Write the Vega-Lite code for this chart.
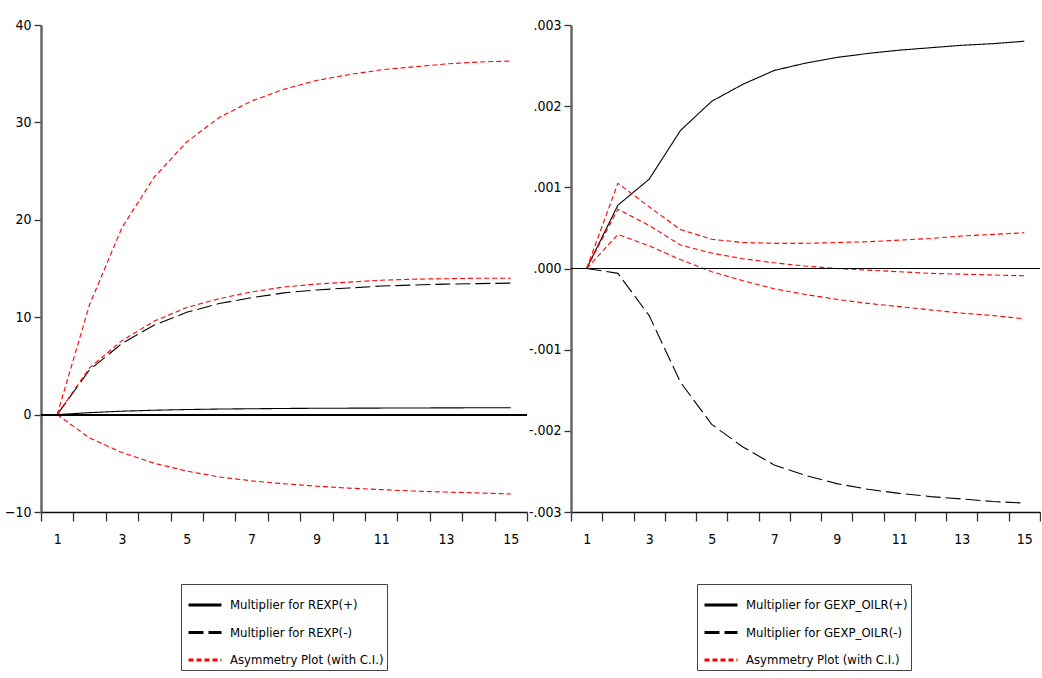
{
"$schema":"https://vega.github.io/schema/vega-lite/v6.json",
"background":"white",
"padding":{"left":4,"top":18,"right":0,"bottom":0},
"config":{
 "view":{"stroke":null},
 "font":"DejaVu Sans Condensed",
 "axis":{"labelFont":"DejaVu Sans Condensed","labelFontSize":14,"labelColor":"#000","grid":false,"tickColor":"#333","tickWidth":1.3},
 "axisX":{"domainColor":"#111","domainWidth":1.5,"tickSize":9,"labelPadding":11,"labelAngle":0},
 "axisY":{"domainColor":"#666","domainWidth":2.5,"tickSize":7,"labelPadding":3},
 "legend":{"orient":"none","direction":"vertical","strokeColor":"#444","padding":3,"rowPadding":2.5,"symbolType":"stroke","symbolSize":1089,"symbolStrokeWidth":3,"symbolOffset":3,"labelFont":"DejaVu Sans Condensed","labelFontSize":13,"labelColor":"#000","labelOffset":7,"labelLimit":400}
},
"spacing":0,
"resolve":{"scale":{"x":"independent","y":"independent","color":"independent","strokeDash":"independent"},"legend":{"color":"independent","strokeDash":"independent"}},
"hconcat":[
{
 "width":486,"height":487,
 "data":{"values":[
  {"t":1,"id":"p","v":0},{"t":2,"id":"p","v":0.2},{"t":3,"id":"p","v":0.35},{"t":4,"id":"p","v":0.45},{"t":5,"id":"p","v":0.52},{"t":6,"id":"p","v":0.57},{"t":7,"id":"p","v":0.6},{"t":8,"id":"p","v":0.63},{"t":9,"id":"p","v":0.65},{"t":10,"id":"p","v":0.66},{"t":11,"id":"p","v":0.67},{"t":12,"id":"p","v":0.68},{"t":13,"id":"p","v":0.69},{"t":14,"id":"p","v":0.7},{"t":15,"id":"p","v":0.7},
  {"t":1,"id":"m","v":0},{"t":2,"id":"m","v":4.6},{"t":3,"id":"m","v":7.3},{"t":4,"id":"m","v":9.2},{"t":5,"id":"m","v":10.5},{"t":6,"id":"m","v":11.4},{"t":7,"id":"m","v":12.0},{"t":8,"id":"m","v":12.5},{"t":9,"id":"m","v":12.8},{"t":10,"id":"m","v":13.0},{"t":11,"id":"m","v":13.2},{"t":12,"id":"m","v":13.3},{"t":13,"id":"m","v":13.4},{"t":14,"id":"m","v":13.45},{"t":15,"id":"m","v":13.5},
  {"t":1,"id":"a","v":0},{"t":2,"id":"a","v":4.8},{"t":3,"id":"a","v":7.6},{"t":4,"id":"a","v":9.6},{"t":5,"id":"a","v":11.0},{"t":6,"id":"a","v":11.9},{"t":7,"id":"a","v":12.6},{"t":8,"id":"a","v":13.1},{"t":9,"id":"a","v":13.4},{"t":10,"id":"a","v":13.6},{"t":11,"id":"a","v":13.8},{"t":12,"id":"a","v":13.9},{"t":13,"id":"a","v":13.95},{"t":14,"id":"a","v":14.0},{"t":15,"id":"a","v":14.0},
  {"t":1,"id":"u","v":0},{"t":2,"id":"u","v":11.3},{"t":3,"id":"u","v":19.2},{"t":4,"id":"u","v":24.4},{"t":5,"id":"u","v":28.0},{"t":6,"id":"u","v":30.5},{"t":7,"id":"u","v":32.2},{"t":8,"id":"u","v":33.4},{"t":9,"id":"u","v":34.3},{"t":10,"id":"u","v":34.9},{"t":11,"id":"u","v":35.4},{"t":12,"id":"u","v":35.7},{"t":13,"id":"u","v":36.0},{"t":14,"id":"u","v":36.2},{"t":15,"id":"u","v":36.3},
  {"t":1,"id":"l","v":0},{"t":2,"id":"l","v":-2.4},{"t":3,"id":"l","v":-3.9},{"t":4,"id":"l","v":-5.0},{"t":5,"id":"l","v":-5.8},{"t":6,"id":"l","v":-6.4},{"t":7,"id":"l","v":-6.8},{"t":8,"id":"l","v":-7.1},{"t":9,"id":"l","v":-7.35},{"t":10,"id":"l","v":-7.55},{"t":11,"id":"l","v":-7.7},{"t":12,"id":"l","v":-7.85},{"t":13,"id":"l","v":-7.95},{"t":14,"id":"l","v":-8.05},{"t":15,"id":"l","v":-8.15}
 ]},
 "transform":[{"lookup":"id","from":{"data":{"values":[
   {"id":"p","s":"Multiplier for REXP(+)"},{"id":"m","s":"Multiplier for REXP(-)"},{"id":"a","s":"Asymmetry Plot (with C.I.)"},{"id":"u","s":"Asymmetry Plot (with C.I.)"},{"id":"l","s":"Asymmetry Plot (with C.I.)"}]},"key":"id","fields":["s"]}}],
 "layer":[
  {"mark":{"type":"line","strokeWidth":1.1},
   "encoding":{
    "x":{"field":"t","type":"ordinal","bandPosition":0.5,"scale":{"type":"band","paddingInner":0,"paddingOuter":0},"axis":{"title":null,"tickBand":"extent","labelExpr":"datum.value % 2 == 1 ? datum.label : ''"}},
    "y":{"field":"v","type":"quantitative","scale":{"domain":[-10,40],"nice":false,"zero":false},"axis":{"title":null,"values":[-10,0,10,20,30,40]}},
    "color":{"field":"s","type":"nominal","scale":{"domain":["Multiplier for REXP(+)","Multiplier for REXP(-)","Asymmetry Plot (with C.I.)"],"range":["#000000","#000000","#ff0000"]},"legend":{"title":null,"legendX":140,"legendY":559}},
    "strokeDash":{"field":"s","type":"nominal","scale":{"domain":["Multiplier for REXP(+)","Multiplier for REXP(-)","Asymmetry Plot (with C.I.)"],"range":[[1,0],[15,5],[5,3]]},"legend":{"title":null,"legendX":140,"legendY":559}},
    "detail":{"field":"id"}
   }},
  {"mark":{"type":"rule","color":"#000","strokeWidth":1},"encoding":{"y":{"datum":0,"type":"quantitative"}}}
 ]
},
{
 "width":469,"height":487,
 "data":{"values":[
  {"t":1,"id":"p","v":0},{"t":2,"id":"p","v":0.00078},{"t":3,"id":"p","v":0.0011},{"t":4,"id":"p","v":0.0017},{"t":5,"id":"p","v":0.00206},{"t":6,"id":"p","v":0.00227},{"t":7,"id":"p","v":0.00244},{"t":8,"id":"p","v":0.00253},{"t":9,"id":"p","v":0.0026},{"t":10,"id":"p","v":0.00265},{"t":11,"id":"p","v":0.00269},{"t":12,"id":"p","v":0.00272},{"t":13,"id":"p","v":0.00275},{"t":14,"id":"p","v":0.00277},{"t":15,"id":"p","v":0.0028},
  {"t":1,"id":"m","v":0},{"t":2,"id":"m","v":-0.00006},{"t":3,"id":"m","v":-0.00058},{"t":4,"id":"m","v":-0.0014},{"t":5,"id":"m","v":-0.00192},{"t":6,"id":"m","v":-0.0022},{"t":7,"id":"m","v":-0.00242},{"t":8,"id":"m","v":-0.00255},{"t":9,"id":"m","v":-0.00265},{"t":10,"id":"m","v":-0.00272},{"t":11,"id":"m","v":-0.00277},{"t":12,"id":"m","v":-0.00281},{"t":13,"id":"m","v":-0.00284},{"t":14,"id":"m","v":-0.00287},{"t":15,"id":"m","v":-0.00289},
  {"t":1,"id":"a","v":0},{"t":2,"id":"a","v":0.00073},{"t":3,"id":"a","v":0.00053},{"t":4,"id":"a","v":0.00029},{"t":5,"id":"a","v":0.00019},{"t":6,"id":"a","v":0.00012},{"t":7,"id":"a","v":0.00007},{"t":8,"id":"a","v":0.00003},{"t":9,"id":"a","v":0.0},{"t":10,"id":"a","v":-0.00002},{"t":11,"id":"a","v":-0.00004},{"t":12,"id":"a","v":-0.00006},{"t":13,"id":"a","v":-0.00007},{"t":14,"id":"a","v":-0.00008},{"t":15,"id":"a","v":-0.00009},
  {"t":1,"id":"u","v":0},{"t":2,"id":"u","v":0.00105},{"t":3,"id":"u","v":0.00076},{"t":4,"id":"u","v":0.00048},{"t":5,"id":"u","v":0.00036},{"t":6,"id":"u","v":0.00032},{"t":7,"id":"u","v":0.00031},{"t":8,"id":"u","v":0.00031},{"t":9,"id":"u","v":0.00032},{"t":10,"id":"u","v":0.00033},{"t":11,"id":"u","v":0.00035},{"t":12,"id":"u","v":0.00037},{"t":13,"id":"u","v":0.0004},{"t":14,"id":"u","v":0.00042},{"t":15,"id":"u","v":0.00044},
  {"t":1,"id":"l","v":0},{"t":2,"id":"l","v":0.00042},{"t":3,"id":"l","v":0.00028},{"t":4,"id":"l","v":0.00011},{"t":5,"id":"l","v":-0.00004},{"t":6,"id":"l","v":-0.00015},{"t":7,"id":"l","v":-0.00025},{"t":8,"id":"l","v":-0.00032},{"t":9,"id":"l","v":-0.00038},{"t":10,"id":"l","v":-0.00043},{"t":11,"id":"l","v":-0.00047},{"t":12,"id":"l","v":-0.00051},{"t":13,"id":"l","v":-0.00055},{"t":14,"id":"l","v":-0.00058},{"t":15,"id":"l","v":-0.00062}
 ]},
 "transform":[{"lookup":"id","from":{"data":{"values":[
   {"id":"p","s":"Multiplier for GEXP_OILR(+)"},{"id":"m","s":"Multiplier for GEXP_OILR(-)"},{"id":"a","s":"Asymmetry Plot (with C.I.)"},{"id":"u","s":"Asymmetry Plot (with C.I.)"},{"id":"l","s":"Asymmetry Plot (with C.I.)"}]},"key":"id","fields":["s"]}}],
 "layer":[
  {"mark":{"type":"line","strokeWidth":1.1},
   "encoding":{
    "x":{"field":"t","type":"ordinal","bandPosition":0.5,"scale":{"type":"band","paddingInner":0,"paddingOuter":0},"axis":{"title":null,"tickBand":"extent","labelExpr":"datum.value % 2 == 1 ? datum.label : ''"}},
    "y":{"field":"v","type":"quantitative","scale":{"domain":[-0.003,0.003],"nice":false,"zero":false},"axis":{"title":null,"values":[-0.003,-0.002,-0.001,0,0.001,0.002,0.003],"labelExpr":"(datum.value < -0.0000001 ? '-' : '') + replace(format(abs(datum.value), '.3f'), '0.', '.')"}},
    "color":{"field":"s","type":"nominal","scale":{"domain":["Multiplier for GEXP_OILR(+)","Multiplier for GEXP_OILR(-)","Asymmetry Plot (with C.I.)"],"range":["#000000","#000000","#ff0000"]},"legend":{"title":null,"legendX":126,"legendY":559}},
    "strokeDash":{"field":"s","type":"nominal","scale":{"domain":["Multiplier for GEXP_OILR(+)","Multiplier for GEXP_OILR(-)","Asymmetry Plot (with C.I.)"],"range":[[1,0],[15,5],[5,3]]},"legend":{"title":null,"legendX":126,"legendY":559}},
    "detail":{"field":"id"}
   }},
  {"mark":{"type":"rule","color":"#000","strokeWidth":1},"encoding":{"y":{"datum":0,"type":"quantitative"}}}
 ]
}
]
}
